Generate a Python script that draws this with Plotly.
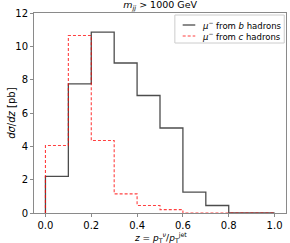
import plotly.graph_objects as go

bin_edges = [0.0, 0.1, 0.2, 0.3, 0.4, 0.5, 0.6, 0.7, 0.8, 0.9, 1.0]
b_values = [2.2, 7.75, 10.85, 9.0, 7.05, 5.1, 1.25, 0.45, 0.0, 0.0]
c_values = [4.05, 10.65, 4.35, 1.15, 0.45, 0.2, 0.0, 0.0, 0.0, 0.0]
x_ticks = [0.0, 0.2, 0.4, 0.6, 0.8, 1.0]
y_ticks = [0, 2, 4, 6, 8, 10, 12]
b_label = "<i>μ</i><sup>−</sup> from <i>b</i> hadrons"
c_label = "<i>μ</i><sup>−</sup> from <i>c</i> hadrons"
b_color = "rgba(0,0,0,0.7)"
c_color = "rgba(255,0,0,0.75)"
axis_color = "#8a8a8a"


def step_xy(edges, vals):
    xs = [edges[0]]
    ys = [0]
    for i, v in enumerate(vals):
        xs += [edges[i], edges[i + 1]]
        ys += [v, v]
    xs.append(edges[-1])
    ys.append(0)
    return xs, ys


fig = go.Figure()
bx, by = step_xy(bin_edges, b_values)
cx, cy = step_xy(bin_edges, c_values)
fig.add_trace(go.Scatter(x=bx, y=by, mode="lines",
                         line=dict(color=b_color, width=1.3), name=b_label))
fig.add_trace(go.Scatter(x=cx, y=cy, mode="lines",
                         line=dict(color=c_color, width=1.1, dash="3px,2px"), name=c_label))

# manual legend (paper coords relative to plot area)
shapes = [
    dict(type="rect", xref="paper", yref="paper", x0=0.559, x1=0.993, y0=0.85, y1=0.99,
         line=dict(color="#cccccc", width=1), fillcolor="rgba(255,255,255,0.8)", layer="above"),
    dict(type="line", xref="paper", yref="paper", x0=0.59, x1=0.64, y0=0.94, y1=0.94,
         line=dict(color=b_color, width=1.3), layer="above"),
    dict(type="line", xref="paper", yref="paper", x0=0.59, x1=0.64, y0=0.885, y1=0.885,
         line=dict(color=c_color, width=1.1, dash="3px,2px"), layer="above"),
]
annotations = [
    dict(text=b_label, xref="paper", yref="paper", x=0.66, y=0.94, xanchor="left", yanchor="middle",
         showarrow=False, font=dict(size=8.5)),
    dict(text=c_label, xref="paper", yref="paper", x=0.66, y=0.885, xanchor="left", yanchor="middle",
         showarrow=False, font=dict(size=8.5)),
    dict(text="<i>z</i> = <i>p</i><sub>T</sub><sup><i>ν</i></sup>/<i>p</i><sub>T</sub><sup>jet</sup>",
         xref="paper", yref="paper", x=0.5, y=-0.158, xanchor="center", yanchor="bottom",
         showarrow=False, font=dict(size=9), borderpad=0),
    dict(text="<i>dσ</i>/<i>dz</i> [pb]", xref="paper", yref="paper", x=-0.092, y=0.5,
         xanchor="center", yanchor="middle", textangle=-90, showarrow=False, font=dict(size=10)),
]

fig.update_layout(
    width=290, height=243,
    margin=dict(l=34, r=4, t=13, b=30, autoexpand=False),
    paper_bgcolor="white", plot_bgcolor="white",
    font=dict(family="DejaVu Sans", size=10, color="black"),
    title=dict(text="<i>m</i><sub><i>jj</i></sub> > 1000 GeV", x=0.552, xanchor="center",
               y=0.995, yanchor="top", font=dict(size=9.5)),
    showlegend=False,
    shapes=shapes,
    annotations=annotations,
    xaxis=dict(range=[-0.05, 1.05], tickvals=x_ticks,
               ticktext=[f"{t:.1f}" for t in x_ticks], automargin=False,
               showgrid=False, zeroline=False, showline=True, mirror=True,
               linecolor=axis_color, linewidth=1, ticks="outside", ticklen=3, tickcolor=axis_color),
    yaxis=dict(range=[0, 12], tickvals=y_ticks, automargin=False,
               showgrid=False, zeroline=False, showline=True, mirror=True,
               linecolor=axis_color, linewidth=1, ticks="outside", ticklen=3, tickcolor=axis_color),
)

fig.write_html("out.html", config={"displayModeBar": False},
               post_script="document.body.style.margin='0';")
